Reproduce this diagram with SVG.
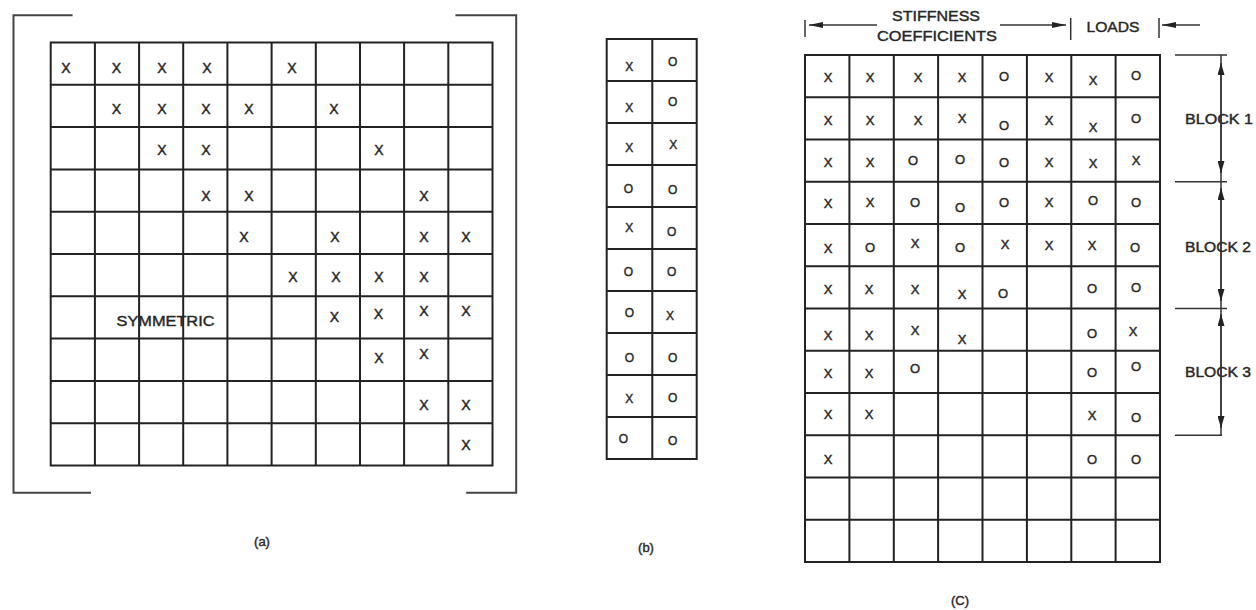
<svg xmlns="http://www.w3.org/2000/svg" width="1256" height="610" viewBox="0 0 1256 610">
<style>
.grid{fill:none;stroke:#222;stroke-width:2}
.brk{fill:none;stroke:#444;stroke-width:2}
.t{font-family:"Liberation Sans",Arial,sans-serif;fill:#222;stroke:#333;stroke-width:0.45;text-anchor:middle}
.a{font-size:14px}
.b{font-size:12px}
.c{font-size:13px}
.lbl{font-size:15px}
.cap{font-size:13px}
.ln{fill:none;stroke:#333;stroke-width:1.5}
</style>
<defs>
<marker id="ah" viewBox="0 0 12 7" refX="12" refY="3.5" markerWidth="12" markerHeight="7" markerUnits="userSpaceOnUse" orient="auto-start-reverse">
<path d="M0,0 L12,3.5 L0,7 z" fill="#222"/>
</marker>
<marker id="hh" viewBox="0 0 14 6" refX="14" refY="3" markerWidth="14" markerHeight="6" markerUnits="userSpaceOnUse" orient="auto-start-reverse">
<path d="M0,0 L14,3 L0,6 z" fill="#222"/>
</marker>
</defs>
<rect width="1256" height="610" fill="#fff"/>

<g id="matrix-a">
<path class="brk" d="M72.6,15.2 H13.5 V492.8 H91 M455.4,15.2 H516.2 V492.8 H466.2"/>
<rect class="grid" x="50.7" y="42.5" width="441.8" height="423"/>
<path class="grid" d="M94.9,42.5V465.5 M139.1,42.5V465.5 M183.2,42.5V465.5 M227.4,42.5V465.5 M271.6,42.5V465.5 M315.8,42.5V465.5 M360,42.5V465.5 M404.1,42.5V465.5 M448.3,42.5V465.5 M50.7,84.8H492.5 M50.7,127.1H492.5 M50.7,169.4H492.5 M50.7,211.7H492.5 M50.7,254H492.5 M50.7,296.3H492.5 M50.7,338.6H492.5 M50.7,380.9H492.5 M50.7,423.2H492.5"/>
<g class="t a">
<text x="66" y="72.6">X</text><text x="116.5" y="72.6">X</text><text x="162" y="72.6">X</text><text x="207" y="72.6">X</text><text x="292" y="72.6">X</text>
<text x="116.5" y="113.8">X</text><text x="162" y="113.8">X</text><text x="206" y="113.8">X</text><text x="249" y="113.8">X</text><text x="334" y="113.8">X</text>
<text x="162" y="155.3">X</text><text x="206" y="155.3">X</text><text x="379" y="155.3">X</text>
<text x="206" y="201">X</text><text x="249" y="201">X</text><text x="424" y="201">X</text>
<text x="244" y="241.5">X</text><text x="335" y="241.5">X</text><text x="424" y="241.5">X</text><text x="466" y="241.5">X</text>
<text x="293" y="282">X</text><text x="336" y="282">X</text><text x="379" y="282">X</text><text x="424" y="282">X</text>
<text x="334.5" y="322">X</text><text x="378.4" y="318.8">X</text><text x="424" y="316">X</text><text x="466" y="316">X</text>
<text x="379" y="363.4">X</text><text x="424" y="359.3">X</text>
<text x="424" y="410">X</text><text x="466" y="410">X</text>
<text x="466" y="449.9">X</text>
</g>
<text class="t lbl" x="165.5" y="326" textLength="98" lengthAdjust="spacingAndGlyphs">SYMMETRIC</text>
<text class="t cap" x="262" y="546">(a)</text>
</g>

<g id="matrix-b">
<rect class="grid" x="606.7" y="39" width="90" height="420"/>
<path class="grid" d="M652.3,39V459 M606.7,81H696.7 M606.7,123H696.7 M606.7,165H696.7 M606.7,207H696.7 M606.7,249H696.7 M606.7,291H696.7 M606.7,333H696.7 M606.7,375H696.7 M606.7,417H696.7"/>
<g class="t b">
<text x="629.3" y="71">X</text><text x="672.7" y="66">O</text>
<text x="629.3" y="111.6">X</text><text x="672.7" y="106">O</text>
<text x="629.3" y="151.6">X</text><text x="673.3" y="149.3">X</text>
<text x="628.3" y="192.6">O</text><text x="672.7" y="194.3">O</text>
<text x="629.3" y="231.6">X</text><text x="671.7" y="236">O</text>
<text x="628.3" y="276">O</text><text x="671.7" y="276">O</text>
<text x="629.3" y="317">O</text><text x="670" y="320.3">X</text>
<text x="629.3" y="361.6">O</text><text x="672.7" y="361.6">O</text>
<text x="629.3" y="402.6">X</text><text x="672.7" y="401.6">O</text>
<text x="623.3" y="442.6">O</text><text x="672.7" y="445">O</text>
</g>
<text class="t cap" x="646" y="552">(b)</text>
</g>

<g id="matrix-c">
<rect class="grid" x="805" y="55" width="355" height="507"/>
<path class="grid" d="M849.4,55V562 M893.8,55V562 M938.1,55V562 M982.5,55V562 M1026.9,55V562 M1071.3,55V562 M1115.6,55V562 M805,97.25H1160 M805,139.5H1160 M805,181.75H1160 M805,224H1160 M805,266.25H1160 M805,308.5H1160 M805,350.75H1160 M805,393H1160 M805,435.25H1160 M805,477.5H1160 M805,519.75H1160"/>
<g class="t c">
<text x="828" y="82">X</text><text x="870" y="82">X</text><text x="918" y="82">X</text><text x="962" y="82">X</text><text x="1004" y="81">O</text><text x="1049" y="82">X</text><text x="1093" y="85">X</text><text x="1136" y="80">O</text>
<text x="828" y="125">X</text><text x="870" y="125">X</text><text x="918" y="125">X</text><text x="962" y="123">X</text><text x="1004" y="130">O</text><text x="1049" y="125">X</text><text x="1093" y="132">X</text><text x="1136" y="123">O</text>
<text x="828" y="167">X</text><text x="870" y="167">X</text><text x="913" y="165">O</text><text x="960" y="164">O</text><text x="1004" y="167">O</text><text x="1049" y="167">X</text><text x="1093" y="168">X</text><text x="1136" y="165">X</text>
<text x="828" y="208">X</text><text x="870" y="207">X</text><text x="915" y="207">O</text><text x="960" y="212">O</text><text x="1004" y="207">O</text><text x="1049" y="207">X</text><text x="1093" y="205">O</text><text x="1136" y="207">O</text>
<text x="828" y="253">X</text><text x="870" y="252">O</text><text x="915" y="248">X</text><text x="960" y="252">O</text><text x="1005" y="249">X</text><text x="1049" y="250">X</text><text x="1092" y="250">X</text><text x="1135" y="252">O</text>
<text x="828" y="294">X</text><text x="869" y="294">X</text><text x="915" y="294">X</text><text x="962" y="299">X</text><text x="1003" y="298">O</text><text x="1092" y="293">O</text><text x="1136" y="292">O</text>
<text x="828" y="340">X</text><text x="869" y="340">X</text><text x="915" y="335">X</text><text x="962" y="344">X</text><text x="1092" y="338">O</text><text x="1133" y="336">X</text>
<text x="828" y="378">X</text><text x="869" y="378">X</text><text x="915" y="373">O</text><text x="1092" y="377">O</text><text x="1136" y="371">O</text>
<text x="828" y="419">X</text><text x="869" y="419">X</text><text x="1092" y="420">X</text><text x="1136" y="422">O</text>
<text x="828" y="464">X</text><text x="1092" y="464">O</text><text x="1136" y="464">O</text>
</g>
<text class="t cap" x="960" y="605">(C)</text>
</g>

<g id="header-labels">
<text class="t lbl" x="936" y="20.5" textLength="88" lengthAdjust="spacingAndGlyphs">STIFFNESS</text>
<text class="t lbl" x="937" y="40.5" textLength="120" lengthAdjust="spacingAndGlyphs">COEFFICIENTS</text>
<text class="t lbl" x="1113" y="31.5" textLength="53" lengthAdjust="spacingAndGlyphs">LOADS</text>
</g>

<g id="block-labels">
<text class="t a" x="1219" y="124" textLength="68" lengthAdjust="spacingAndGlyphs">BLOCK 1</text>
<text class="t a" x="1218" y="251.7" textLength="66" lengthAdjust="spacingAndGlyphs">BLOCK 2</text>
<text class="t a" x="1218" y="376.7" textLength="66" lengthAdjust="spacingAndGlyphs">BLOCK 3</text>
</g>

<g id="connectors">
<path class="ln" d="M805,20V37 M1070.7,18V40 M1159,18V38"/>
<line class="ln" x1="877" y1="25" x2="809" y2="25" marker-end="url(#hh)"/>
<line class="ln" x1="1000" y1="25" x2="1066" y2="25" marker-end="url(#hh)"/>
<line class="ln" x1="1200" y1="25" x2="1162" y2="25" marker-end="url(#hh)"/>
<path class="ln" d="M1175,55H1227 M1175,181.75H1227 M1175,308.5H1227 M1175,435.25H1222 M1221,55V435.25"/>
<line class="ln" x1="1221" y1="63" x2="1221" y2="173" marker-start="url(#ah)" marker-end="url(#ah)"/>
<line class="ln" x1="1221" y1="188" x2="1221" y2="301" marker-start="url(#ah)" marker-end="url(#ah)"/>
<line class="ln" x1="1221" y1="314" x2="1221" y2="428" marker-start="url(#ah)" marker-end="url(#ah)"/>
</g>
</svg>
